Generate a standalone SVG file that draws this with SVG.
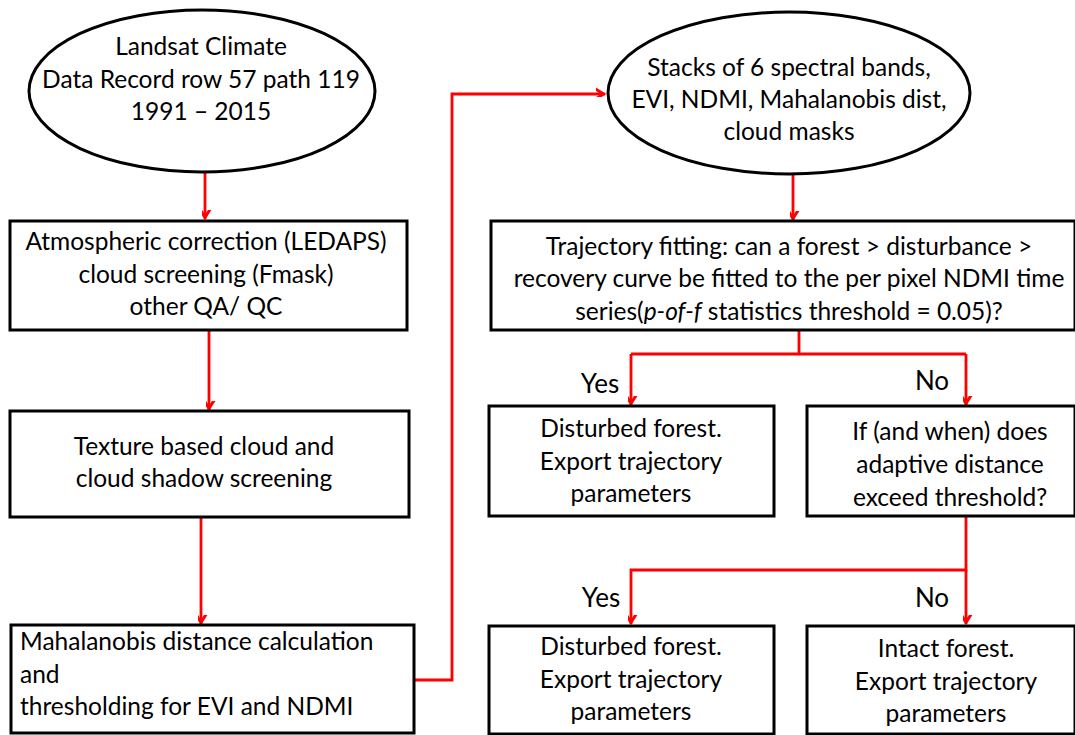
<svg xmlns="http://www.w3.org/2000/svg" width="1075" height="735" viewBox="0 0 1075 735">
<defs>
<marker id="arr" markerUnits="userSpaceOnUse" markerWidth="18" markerHeight="18" viewBox="-9 -15 18 18" refX="0" refY="0" orient="auto-start-reverse">
<polyline points="-6.5,-12 0,-1.5 6.5,-12" fill="none" stroke="#ff0000" stroke-width="3" transform="rotate(-90)"/>
</marker>
<style>
.n{fill:#fff;stroke:#000;stroke-width:3}
.t{font-family:Lato,"Liberation Sans",sans-serif;font-size:24.5px;fill:#000;text-anchor:middle}
.y{font-size:26px}
.l{text-anchor:start}
.c{fill:none;stroke:#ff0000;stroke-width:2.8}
</style>
</defs>
<rect width="1075" height="735" fill="#fff"/>
<g id="connectors">
<line class="c" x1="205" y1="173" x2="205" y2="219" marker-end="url(#arr)"/>
<line class="c" x1="209" y1="331" x2="209" y2="410" marker-end="url(#arr)"/>
<line class="c" x1="201" y1="518" x2="201" y2="624" marker-end="url(#arr)"/>
<polyline class="c" points="415,680 452,680 452,94 605,94" marker-end="url(#arr)"/>
<line class="c" x1="793" y1="175" x2="793" y2="220" marker-end="url(#arr)"/>
<polyline class="c" points="799,331 799,354"/>
<polyline class="c" points="631,354 966,354"/>
<line class="c" x1="631" y1="354" x2="631" y2="405" marker-end="url(#arr)"/>
<line class="c" x1="966" y1="354" x2="966" y2="405" marker-end="url(#arr)"/>
<polyline class="c" points="966,517 966,570 631,570 631,624" marker-end="url(#arr)"/>
<line class="c" x1="966" y1="570" x2="966" y2="624" marker-end="url(#arr)"/>
<text class="t y" x="600" y="393">Yes</text>
<text class="t y" x="932" y="390">No</text>
<text class="t y" x="601" y="607">Yes</text>
<text class="t y" x="932" y="607">No</text>
</g>
<g id="n1">
<ellipse class="n" cx="202" cy="91" rx="173" ry="81"/>
<text class="t" x="201" y="55">Landsat Climate</text>
<text class="t" x="201" y="88">Data Record row 57 path 119</text>
<text class="t" x="201" y="120">1991 – 2015</text>
</g>
<g id="n2">
<rect class="n" x="10" y="221" width="397" height="109"/>
<text class="t" x="206" y="250">Atmospheric correction (LEDAPS)</text>
<text class="t" x="206" y="283">cloud screening (Fmask)</text>
<text class="t" x="206" y="315">other QA/ QC</text>
</g>
<g id="n3">
<rect class="n" x="10" y="411" width="399" height="106"/>
<text class="t" x="204" y="455">Texture based cloud and</text>
<text class="t" x="204" y="487">cloud shadow screening</text>
</g>
<g id="n4">
<rect class="n" x="11" y="625" width="403" height="108"/>
<text class="t l" x="20" y="650">Mahalanobis distance calculation</text>
<text class="t l" x="20" y="683">and</text>
<text class="t l" x="20" y="715">thresholding for EVI and NDMI</text>
</g>
<g id="n5">
<ellipse class="n" cx="789" cy="93" rx="181" ry="81"/>
<text class="t" x="789" y="76">Stacks of 6 spectral bands,</text>
<text class="t" x="789" y="108">EVI, NDMI, Mahalanobis dist,</text>
<text class="t" x="789" y="140">cloud masks</text>
</g>
<g id="n6">
<rect class="n" x="491" y="221" width="584" height="109"/>
<text class="t" x="789" y="255">Trajectory fitting: can a forest &gt; disturbance &gt;</text>
<text class="t" x="789" y="287">recovery curve be fitted to the per pixel NDMI time</text>
<text class="t" x="789" y="320">series(<tspan font-style="italic">p-of-f</tspan> statistics threshold = 0.05)?</text>
</g>
<g id="n7">
<rect class="n" x="489" y="406" width="285" height="110"/>
<text class="t" x="631" y="437">Disturbed forest.</text>
<text class="t" x="631" y="470">Export trajectory</text>
<text class="t" x="631" y="502">parameters</text>
</g>
<g id="n8">
<rect class="n" x="807" y="406" width="268" height="110"/>
<text class="t" x="950" y="440">If (and when) does</text>
<text class="t" x="950" y="473">adaptive distance</text>
<text class="t" x="950" y="506">exceed threshold?</text>
</g>
<g id="n9">
<rect class="n" x="489" y="626" width="285" height="108"/>
<text class="t" x="631" y="655">Disturbed forest.</text>
<text class="t" x="631" y="688">Export trajectory</text>
<text class="t" x="631" y="720">parameters</text>
</g>
<g id="n10">
<rect class="n" x="807" y="626" width="268" height="108"/>
<text class="t" x="946" y="657">Intact forest.</text>
<text class="t" x="946" y="690">Export trajectory</text>
<text class="t" x="946" y="722">parameters</text>
</g>
</svg>
